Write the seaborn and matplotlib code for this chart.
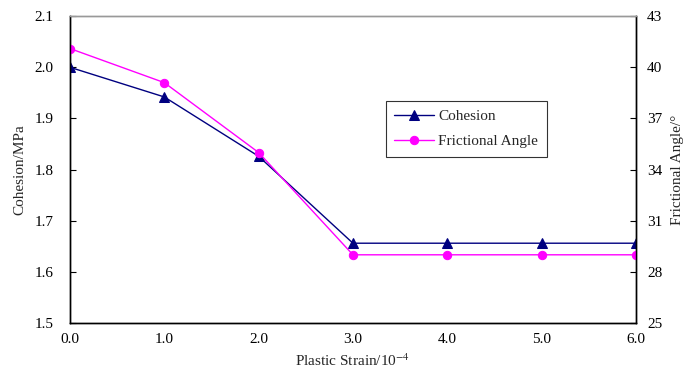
import pandas as pd
import matplotlib
matplotlib.use("Agg")
import matplotlib.pyplot as plt
import seaborn as sns

# data
strain = [0.0, 1.0, 2.0, 3.0, 4.0, 5.0, 6.0]
cohesion = [2.000, 1.942, 1.826, 1.656, 1.656, 1.656, 1.656]
friction = [41.1, 39.1, 35.0, 29.0, 29.0, 29.0, 29.0]
left_ticks = [1.5, 1.6, 1.7, 1.8, 1.9, 2.0, 2.1]
right_ticks = [25, 28, 31, 34, 37, 40, 43]

df = pd.DataFrame({"strain": strain, "cohesion": cohesion, "friction": friction})

sns.set_style("white")
plt.rcParams['font.family'] = ['Liberation Serif', 'DejaVu Serif']
plt.rcParams['mathtext.fontset'] = 'stix'
plt.rcParams['font.size'] = 11

fig = plt.figure(figsize=(6.83, 3.76), dpi=100)
ax = fig.add_axes([0.1025, 0.141, 0.8285, 0.816])
ax2 = ax.twinx()

sns.lineplot(data=df, x="strain", y="cohesion", ax=ax, color="#000080",
             marker="^", markersize=7, markeredgecolor="#000080", lw=1, label="Cohesion", legend=False)
sns.lineplot(data=df, x="strain", y="friction", ax=ax2, color="#ff00ff",
             marker="o", markersize=6, markeredgecolor="#ff00ff", lw=1, label="Frictional Angle", legend=False)

ax.set_xlim(0, 6)
ax.set_ylim(1.5, 2.1)
ax.set_xticks(strain)
ax.set_xticklabels([f"{v:.1f}" for v in strain])
ax.set_yticks(left_ticks)
ax.set_yticklabels([f"{v:.1f}" for v in left_ticks])
ax2.set_ylim(25, 43)
ax2.set_yticks(right_ticks)

ax.set_xlabel("Plastic Strain/10$^{\\mathrm{-4}}$", fontsize=11, labelpad=5)
ax.set_ylabel("Cohesion/MPa", fontsize=11, labelpad=6)
ax2.set_ylabel("Frictional Angle/°", fontsize=11, labelpad=6)

for a in (ax, ax2):
    a.tick_params(direction="in", length=4, width=0.8, labelsize=11, colors="black")
    for s in a.spines.values():
        s.set_color("black")
        s.set_linewidth(1)
    a.spines["top"].set_color("#999999")
ax.tick_params(axis="x", pad=7)
ax.tick_params(axis="y", pad=12)
ax2.tick_params(axis="y", pad=8)

h1, l1 = ax.get_legend_handles_labels()
h2, l2 = ax2.get_legend_handles_labels()
leg = ax2.legend(h1 + h2, l1 + l2, loc="upper left", bbox_to_anchor=(0.558, 0.723),
                 frameon=True, fancybox=False, edgecolor="black", fontsize=11,
                 handlelength=2.6, borderpad=0.55, labelspacing=0.75, handletextpad=0.3,
                 borderaxespad=0)
leg.get_frame().set_linewidth(0.8)

fig.savefig("out.png", dpi=100)
